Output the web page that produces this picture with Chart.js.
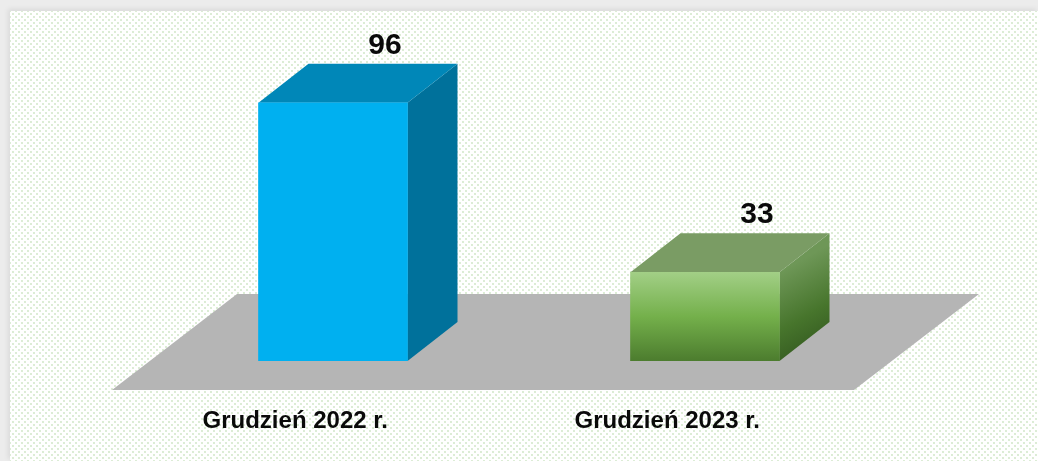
<!DOCTYPE html>
<html>
<head>
<meta charset="utf-8">
<script src="https://cdn.jsdelivr.net/npm/chart.js@4.4.1/dist/chart.umd.min.js"></script>
<style>
  html, body { margin: 0; padding: 0; }
  body { width: 1038px; height: 461px; position: relative; overflow: hidden; background: #ececec; }
  .panel {
    position: absolute; left: 10px; top: 11px; right: 0; bottom: 0;
    background-color: #fff;
    background-image:
      radial-gradient(circle, #dcecd5 0.7px, transparent 1.2px),
      radial-gradient(circle, #dcecd5 0.7px, transparent 1.2px);
    background-size: 6px 6px;
    background-position: 0 0, 3px 3px;
    box-shadow: -2px -2px 5px rgba(0,0,0,0.08);
  }
  canvas { position: absolute; left: 0; top: 0; }
</style>
</head>
<body>
<div class="panel"></div>
<canvas id="chart" width="1038" height="461"></canvas>
<script>
// data
const categories = ['Grudzień 2022 r.', 'Grudzień 2023 r.'];
const values = [96, 33];

// palette: front / top / side per bar
const FRONT = ['#00B0F0', null];
const TOP = ['#0087B8', '#7A9C64'];
const SIDE = ['#00719B', null];
const FLOOR = '#B5B5B5';

// 3D depth of bars and floor (px)
const BAR_DX = 50, BAR_DY = -39;
const FLOOR_DX = 125, FLOOR_DY = -96;
const FLOOR_FRONT = 29;
const LABEL_FONT = 'bold 24px "Liberation Sans", Arial, sans-serif';
const VALUE_FONT = 'bold 30px "Liberation Sans", Arial, sans-serif';

function greenFront(ctx, top, bottom) {
  const g = ctx.createLinearGradient(0, top, 0, bottom);
  g.addColorStop(0, '#A2CF86');
  g.addColorStop(0.5, '#74B04B');
  g.addColorStop(1, '#4C7C2E');
  return g;
}

const bars3d = {
  id: 'bars3d',
  beforeDatasetsDraw(chart) {
    const { ctx, chartArea, scales } = chart;
    const y0 = scales.y.getPixelForValue(0) + FLOOR_FRONT;
    const l = chartArea.left - 35, r = chartArea.right - 37;
    ctx.save();
    ctx.fillStyle = FLOOR;
    ctx.beginPath();
    ctx.moveTo(l, y0);
    ctx.lineTo(r, y0);
    ctx.lineTo(r + FLOOR_DX, y0 + FLOOR_DY);
    ctx.lineTo(l + FLOOR_DX, y0 + FLOOR_DY);
    ctx.closePath();
    ctx.fill();

    chart.getDatasetMeta(0).data.forEach((bar, i) => {
      const { x, y, base, width } = bar.getProps(['x', 'y', 'base', 'width'], true);
      const left = x - width / 2, right = x + width / 2;
      // side
      let side = SIDE[i];
      if (!side) {
        side = ctx.createLinearGradient(right, y, right + BAR_DX, base);
        side.addColorStop(0, '#6E9757');
        side.addColorStop(0.5, '#47752C');
        side.addColorStop(1, '#2C4F1B');
      }
      ctx.fillStyle = side;
      ctx.beginPath();
      ctx.moveTo(right, y);
      ctx.lineTo(right + BAR_DX, y + BAR_DY);
      ctx.lineTo(right + BAR_DX, base + BAR_DY);
      ctx.lineTo(right, base);
      ctx.closePath();
      ctx.fill();
      // top
      ctx.fillStyle = TOP[i];
      ctx.beginPath();
      ctx.moveTo(left, y);
      ctx.lineTo(left + BAR_DX, y + BAR_DY);
      ctx.lineTo(right + BAR_DX, y + BAR_DY);
      ctx.lineTo(right, y);
      ctx.closePath();
      ctx.fill();
    });
    ctx.restore();
  },
  afterDatasetsDraw(chart) {
    const { ctx, scales } = chart;
    const floorShift = FLOOR_FRONT / -FLOOR_DY * FLOOR_DX;
    const yLabel = scales.y.getPixelForValue(0) + 67;
    ctx.save();
    ctx.fillStyle = '#0a0a0a';
    ctx.textAlign = 'center';
    chart.getDatasetMeta(0).data.forEach((bar, i) => {
      const { x, y } = bar.getProps(['x', 'y'], true);
      ctx.font = VALUE_FONT;
      ctx.textBaseline = 'alphabetic';
      ctx.fillText(String(values[i]), x + BAR_DX + 2, y + BAR_DY - 10);
      ctx.font = LABEL_FONT;
      ctx.fillText(categories[i], x - floorShift, yLabel);
    });
    ctx.restore();
  }
};

new Chart(document.getElementById('chart'), {
  type: 'bar',
  data: {
    labels: categories,
    datasets: [{
      data: values,
      backgroundColor: (c) => {
        if (FRONT[c.dataIndex]) return FRONT[c.dataIndex];
        const ys = c.chart.scales.y;
        if (!ys) return '#74B04B';
        return greenFront(c.chart.ctx, ys.getPixelForValue(values[c.dataIndex]), ys.getPixelForValue(0));
      },
      borderWidth: 0,
      barThickness: 149,
    }],
  },
  options: {
    responsive: false,
    animation: false,
    devicePixelRatio: 1,
    layout: { padding: { top: 92, bottom: 100, left: 147, right: 147 } },
    plugins: { legend: { display: false }, tooltip: { enabled: false } },
    scales: {
      x: { display: false },
      y: { display: false, min: 0, max: 100 },
    },
  },
  plugins: [bars3d],
});
</script>
</body>
</html>
